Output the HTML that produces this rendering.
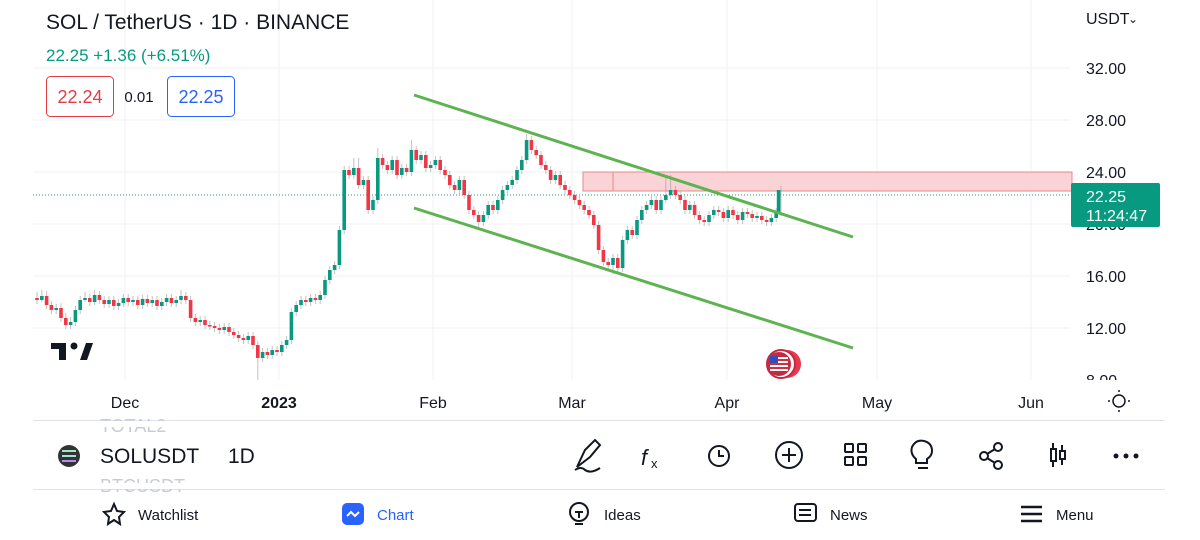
<!DOCTYPE html>
<html><head><meta charset="utf-8"><style>
html,body{margin:0;padding:0;background:#fff;width:1200px;height:540px;overflow:hidden;font-family:"Liberation Sans",sans-serif}
svg text{font-family:"Liberation Sans",sans-serif}
.u{fill:#089981}.d{fill:#f23645}
</style></head><body>
<svg width="1200" height="540" xmlns="http://www.w3.org/2000/svg">
<g stroke="#f0f2f5" stroke-width="1">
<line x1="33" y1="68" x2="1070" y2="68"/><line x1="33" y1="120" x2="1070" y2="120"/><line x1="33" y1="172" x2="1070" y2="172"/><line x1="33" y1="224" x2="1070" y2="224"/><line x1="33" y1="276" x2="1070" y2="276"/><line x1="33" y1="328" x2="1070" y2="328"/>
<line x1="125" y1="0" x2="125" y2="380"/><line x1="279" y1="0" x2="279" y2="380"/><line x1="433" y1="0" x2="433" y2="380"/><line x1="572" y1="0" x2="572" y2="380"/><line x1="727" y1="0" x2="727" y2="380"/><line x1="877" y1="0" x2="877" y2="380"/><line x1="1031" y1="0" x2="1031" y2="380"/>
</g>
<rect x="583" y="172" width="489" height="19" fill="#f9d3d5" stroke="#e58a90" stroke-width="1"/>
<line x1="613" y1="172" x2="613" y2="191" stroke="#e58a90"/>
<line x1="33" y1="195" x2="1070" y2="195" stroke="#1a9a80" stroke-dasharray="1,2" stroke-width="1"/>
<!-- wicks -->
<path stroke="#999" stroke-opacity="0.6" stroke-width="1" fill="none" d="M37 292v12M41.8 290v12M46.6 291v18M51.4 301v13M56.2 304v10M61 303v19M65.8 313v16M70.6 317v12M75.4 306v20M80.2 296v18M85 292v10M89.8 294v12M94.6 290v15M99.4 291v13M104.2 296v12M109 296v12M113.8 296v14M118.6 299v11M123.4 294v13M128.2 294v12M133 296v10M137.8 296v13M142.6 295v14M147.4 295v12M152.2 296v11M157 296v14M161.8 298v12M166.6 294v12M171.4 294v13M176.2 296v11M181 290v14M185.8 292v12M190.6 296v26M195.4 314v12M200.2 316v10M205 316v13M209.8 321v9M214.6 322v10M219.4 324v10M224.2 323v11M229 323v13M233.8 328v11M238.6 331v11M243.4 334v10M248.2 332v12M253 332v17M257.8 341v40M262.6 348v14M267.4 348v11M272.2 346v13M277 346v10M281.8 341v15M286.6 336v13M291.4 308v36M296.2 301v15M301 296v13M305.8 296v10M310.6 294v12M315.4 294v10M320.2 291v13M325 276v23M329.8 266v18M334.6 261v13M339.4 226v43M344.2 166v68M349 166v13M353.8 158v21M358.6 158v31M363.4 176v13M368.2 176v38M373 196v18M377.8 148v56M382.6 154v15M387.4 161v13M392.2 156v18M397 156v23M401.8 164v15M406.6 164v12M411.4 140v36M416.2 146v18M421 151v13M425.8 151v21M430.6 161v11M435.4 156v13M440.2 156v18M445 166v13M449.8 171v18M454.6 181v13M459.4 176v18M464.2 176v23M469 191v23M473.8 206v13M478.6 211v18M483.4 211v15M488.2 201v18M493 201v13M497.8 196v18M502.6 186v18M507.4 181v13M512.2 176v13M517 166v18M521.8 156v18M526.6 134v30M531.4 136v18M536.2 146v13M541 151v18M545.8 161v13M550.6 166v18M555.4 171v13M560.2 171v18M565 181v13M569.8 186v13M574.6 191v13M579.4 196v13M584.2 201v13M589 206v13M593.8 211v18M598.6 221v33M603.4 246v20M608.2 258v11M613 254v20M617.8 254v18M622.6 236v36M627.4 226v18M632.2 226v13M637 216v23M641.8 206v18M646.6 201v13M651.4 196v13M656.2 196v18M661 196v18M665.8 175v28M670.6 175v24M675.4 186v13M680.2 191v13M685 196v18M689.8 201v13M694.6 201v18M699.4 211v13M704.2 216v10M709 211v15M713.8 206v13M718.6 206v10M723.4 208v14M728.2 206v16M733 206v13M737.8 211v13M742.6 208v16M747.4 208v10M752.2 210v12M757 212v10M761.8 212v12M766.6 216v10M771.4 214v12M776.2 208v14M781 186v30"/>
<g class="d">
<rect x="35.2" y="298" width="3.6" height="2"/><rect x="44.8" y="296" width="3.6" height="9"/><rect x="49.6" y="305" width="3.6" height="5"/><rect x="59.2" y="308" width="3.6" height="10"/><rect x="64" y="318" width="3.6" height="7"/><rect x="88" y="298" width="3.6" height="4"/><rect x="97.6" y="295" width="3.6" height="5"/><rect x="102.4" y="300" width="3.6" height="4"/><rect x="112" y="300" width="3.6" height="6"/><rect x="126.4" y="298" width="3.6" height="4"/><rect x="136" y="300" width="3.6" height="5"/><rect x="145.6" y="299" width="3.6" height="4"/><rect x="155.2" y="300" width="3.6" height="6"/><rect x="169.6" y="298" width="3.6" height="5"/><rect x="184" y="296" width="3.6" height="4"/><rect x="188.8" y="300" width="3.6" height="18"/><rect x="193.6" y="318" width="3.6" height="4"/><rect x="203.2" y="320" width="3.6" height="5"/><rect x="208" y="325" width="3.6" height="1.5"/><rect x="212.8" y="326" width="3.6" height="2"/><rect x="217.6" y="328" width="3.6" height="2"/><rect x="227.2" y="327" width="3.6" height="5"/><rect x="232" y="332" width="3.6" height="3"/><rect x="236.8" y="335" width="3.6" height="3"/><rect x="241.6" y="338" width="3.6" height="2"/><rect x="251.2" y="336" width="3.6" height="9"/><rect x="256" y="345" width="3.6" height="13"/><rect x="265.6" y="352" width="3.6" height="3"/><rect x="275.2" y="350" width="3.6" height="2"/><rect x="304" y="300" width="3.6" height="2"/><rect x="313.6" y="298" width="3.6" height="2"/><rect x="347.2" y="170" width="3.6" height="5"/><rect x="356.8" y="168" width="3.6" height="17"/><rect x="366.4" y="180" width="3.6" height="30"/><rect x="380.8" y="158" width="3.6" height="7"/><rect x="385.6" y="165" width="3.6" height="5"/><rect x="395.2" y="160" width="3.6" height="15"/><rect x="404.8" y="168" width="3.6" height="4"/><rect x="414.4" y="150" width="3.6" height="10"/><rect x="424" y="155" width="3.6" height="13"/><rect x="438.4" y="160" width="3.6" height="10"/><rect x="443.2" y="170" width="3.6" height="5"/><rect x="448" y="175" width="3.6" height="10"/><rect x="452.8" y="185" width="3.6" height="5"/><rect x="462.4" y="180" width="3.6" height="15"/><rect x="467.2" y="195" width="3.6" height="15"/><rect x="472" y="210" width="3.6" height="5"/><rect x="476.8" y="215" width="3.6" height="7"/><rect x="491.2" y="205" width="3.6" height="5"/><rect x="529.6" y="140" width="3.6" height="10"/><rect x="534.4" y="150" width="3.6" height="5"/><rect x="539.2" y="155" width="3.6" height="10"/><rect x="544" y="165" width="3.6" height="5"/><rect x="548.8" y="170" width="3.6" height="10"/><rect x="558.4" y="175" width="3.6" height="10"/><rect x="563.2" y="185" width="3.6" height="5"/><rect x="568" y="190" width="3.6" height="5"/><rect x="572.8" y="195" width="3.6" height="5"/><rect x="577.6" y="200" width="3.6" height="5"/><rect x="582.4" y="205" width="3.6" height="5"/><rect x="587.2" y="210" width="3.6" height="5"/><rect x="592" y="215" width="3.6" height="10"/><rect x="596.8" y="225" width="3.6" height="25"/><rect x="601.6" y="250" width="3.6" height="12"/><rect x="606.4" y="262" width="3.6" height="3"/><rect x="616" y="258" width="3.6" height="10"/><rect x="630.4" y="230" width="3.6" height="5"/><rect x="654.4" y="200" width="3.6" height="10"/><rect x="673.6" y="190" width="3.6" height="5"/><rect x="678.4" y="195" width="3.6" height="5"/><rect x="683.2" y="200" width="3.6" height="10"/><rect x="692.8" y="205" width="3.6" height="10"/><rect x="697.6" y="215" width="3.6" height="5"/><rect x="702.4" y="220" width="3.6" height="2"/><rect x="716.8" y="210" width="3.6" height="2"/><rect x="721.6" y="212" width="3.6" height="6"/><rect x="731.2" y="210" width="3.6" height="5"/><rect x="736" y="215" width="3.6" height="5"/><rect x="745.6" y="212" width="3.6" height="2"/><rect x="750.4" y="214" width="3.6" height="4"/><rect x="760" y="216" width="3.6" height="4"/><rect x="764.8" y="220" width="3.6" height="2"/>
</g>
<g class="u">
<rect x="40" y="296" width="3.6" height="4"/><rect x="54.4" y="308" width="3.6" height="2"/><rect x="68.8" y="322" width="3.6" height="3"/><rect x="73.6" y="310" width="3.6" height="12"/><rect x="78.4" y="300" width="3.6" height="10"/><rect x="83.2" y="298" width="3.6" height="2"/><rect x="92.8" y="295" width="3.6" height="7"/><rect x="107.2" y="300" width="3.6" height="4"/><rect x="116.8" y="303" width="3.6" height="3"/><rect x="121.6" y="298" width="3.6" height="5"/><rect x="131.2" y="300" width="3.6" height="2"/><rect x="140.8" y="299" width="3.6" height="6"/><rect x="150.4" y="300" width="3.6" height="3"/><rect x="160" y="302" width="3.6" height="4"/><rect x="164.8" y="298" width="3.6" height="4"/><rect x="174.4" y="300" width="3.6" height="3"/><rect x="179.2" y="296" width="3.6" height="4"/><rect x="198.4" y="320" width="3.6" height="2"/><rect x="222.4" y="327" width="3.6" height="3"/><rect x="246.4" y="336" width="3.6" height="4"/><rect x="260.8" y="352" width="3.6" height="6"/><rect x="270.4" y="350" width="3.6" height="5"/><rect x="280" y="345" width="3.6" height="7"/><rect x="284.8" y="340" width="3.6" height="5"/><rect x="289.6" y="312" width="3.6" height="28"/><rect x="294.4" y="305" width="3.6" height="7"/><rect x="299.2" y="300" width="3.6" height="5"/><rect x="308.8" y="298" width="3.6" height="4"/><rect x="318.4" y="295" width="3.6" height="5"/><rect x="323.2" y="280" width="3.6" height="15"/><rect x="328" y="270" width="3.6" height="10"/><rect x="332.8" y="265" width="3.6" height="5"/><rect x="337.6" y="230" width="3.6" height="35"/><rect x="342.4" y="170" width="3.6" height="60"/><rect x="352" y="168" width="3.6" height="7"/><rect x="361.6" y="180" width="3.6" height="5"/><rect x="371.2" y="200" width="3.6" height="10"/><rect x="376" y="158" width="3.6" height="42"/><rect x="390.4" y="160" width="3.6" height="10"/><rect x="400" y="168" width="3.6" height="7"/><rect x="409.6" y="150" width="3.6" height="22"/><rect x="419.2" y="155" width="3.6" height="5"/><rect x="428.8" y="165" width="3.6" height="3"/><rect x="433.6" y="160" width="3.6" height="5"/><rect x="457.6" y="180" width="3.6" height="10"/><rect x="481.6" y="215" width="3.6" height="7"/><rect x="486.4" y="205" width="3.6" height="10"/><rect x="496" y="200" width="3.6" height="10"/><rect x="500.8" y="190" width="3.6" height="10"/><rect x="505.6" y="185" width="3.6" height="5"/><rect x="510.4" y="180" width="3.6" height="5"/><rect x="515.2" y="170" width="3.6" height="10"/><rect x="520" y="160" width="3.6" height="10"/><rect x="524.8" y="140" width="3.6" height="20"/><rect x="553.6" y="175" width="3.6" height="5"/><rect x="611.2" y="258" width="3.6" height="7"/><rect x="620.8" y="240" width="3.6" height="28"/><rect x="625.6" y="230" width="3.6" height="10"/><rect x="635.2" y="220" width="3.6" height="15"/><rect x="640" y="210" width="3.6" height="10"/><rect x="644.8" y="205" width="3.6" height="5"/><rect x="649.6" y="200" width="3.6" height="5"/><rect x="659.2" y="200" width="3.6" height="10"/><rect x="664" y="195" width="3.6" height="5"/><rect x="668.8" y="190" width="3.6" height="5"/><rect x="688" y="205" width="3.6" height="5"/><rect x="707.2" y="215" width="3.6" height="7"/><rect x="712" y="210" width="3.6" height="5"/><rect x="726.4" y="210" width="3.6" height="8"/><rect x="740.8" y="212" width="3.6" height="8"/><rect x="755.2" y="216" width="3.6" height="2"/><rect x="769.6" y="218" width="3.6" height="4"/><rect x="774.4" y="212" width="3.6" height="6"/><rect x="776.8" y="190" width="3.6" height="22"/>
</g>
<line x1="414" y1="95" x2="853" y2="237" stroke="#5cb34f" stroke-width="3"/>
<line x1="414" y1="208" x2="853" y2="348" stroke="#5cb34f" stroke-width="3"/>
<text x="46" y="29" font-size="21" fill="#131722">SOL / TetherUS · 1D · BINANCE</text>
<text x="46" y="61" font-size="17" fill="#089981">22.25 +1.36 (+6.51%)</text>
<rect x="46.5" y="76.5" width="67" height="40" rx="4" fill="#fff" stroke="#e33c47"/>
<text x="80" y="103" font-size="18" fill="#e33c47" text-anchor="middle">22.24</text>
<text x="139" y="102" font-size="15" fill="#131722" text-anchor="middle">0.01</text>
<rect x="167.5" y="76.5" width="67" height="40" rx="4" fill="#fff" stroke="#2962ff"/>
<text x="201" y="103" font-size="18" fill="#2962ff" text-anchor="middle">22.25</text>
<g font-size="16" fill="#131722">
<text x="1086" y="24">USDT</text><text x="1128" y="23" font-size="12">⌄</text>
<text x="1086" y="74">32.00</text><text x="1086" y="126">28.00</text><text x="1086" y="178">24.00</text><text x="1086" y="230">20.00</text><text x="1086" y="282">16.00</text><text x="1086" y="334">12.00</text><text x="1086" y="386">8.00</text>
</g>
<rect x="1071" y="183" width="89" height="44" rx="2" fill="#089981"/>
<text x="1086" y="202" font-size="16" fill="#fff">22.25</text>
<text x="1086" y="221" font-size="16" fill="#fff">11:24:47</text>
<rect x="0" y="380" width="1200" height="160" fill="#fff"/>
<g font-size="16" fill="#131722" text-anchor="middle">
<text x="125" y="408">Dec</text><text x="279" y="408" font-weight="bold">2023</text><text x="433" y="408">Feb</text><text x="572" y="408">Mar</text><text x="727" y="408">Apr</text><text x="877" y="408">May</text><text x="1031" y="408">Jun</text>
</g>
<circle cx="1119" cy="401" r="6" fill="none" stroke="#131722" stroke-width="1.5"/>
<g stroke="#131722" stroke-width="1.5"><line x1="1119" y1="390" x2="1119" y2="392"/><line x1="1119" y1="410" x2="1119" y2="412"/><line x1="1108" y1="401" x2="1110" y2="401"/><line x1="1128" y1="401" x2="1130" y2="401"/></g>
<line x1="33" y1="420.5" x2="1165" y2="420.5" stroke="#e0e3eb"/>
<line x1="33" y1="489.5" x2="1165" y2="489.5" stroke="#e0e3eb"/>
<text x="100" y="432" font-size="18" fill="#c8cbd2">TOTAL2</text>
<text x="100" y="492" font-size="18" fill="#c8cbd2">BTCUSDT</text>
<rect x="0" y="421" width="1200" height="6" fill="#fff"/><rect x="0" y="483" width="1200" height="6" fill="#fff"/>
<circle cx="69" cy="456" r="11" fill="#333"/>
<g stroke="#9be7c9" stroke-width="2"><line x1="62" y1="451" x2="76" y2="451"/><line x1="62" y1="456" x2="76" y2="456"/></g><line x1="62" y1="461" x2="76" y2="461" stroke="#b78cf2" stroke-width="2"/>
<text x="100" y="463" font-size="21" fill="#131722">SOLUSDT</text>
<text x="228" y="463" font-size="21" fill="#131722">1D</text>
<g fill="none" stroke="#131722" stroke-width="2">
<path d="M577 467 L585 450 L595 440 L600 445 L590 457 Z M575 470 q6 -4 10 0 q6 4 15 -2"/>
<text x="641" y="465" font-size="22" fill="#131722" stroke="none" font-style="italic">f</text><text x="651" y="468" font-size="13" fill="#131722" stroke="none">x</text>
<circle cx="719" cy="456" r="10"/><path d="M719 450v6h5"/>
<circle cx="789" cy="455" r="13"/><path d="M782 455h14M789 448v14"/>
<rect x="845" y="444" width="8" height="8" rx="1"/><rect x="858" y="444" width="8" height="8" rx="1"/><rect x="845" y="457" width="8" height="8" rx="1"/><rect x="858" y="457" width="8" height="8" rx="1"/>
<path d="M916 459 q-6 -5 -4 -12 q4 -8 12 -6 q8 2 8 10 q0 5 -5 8 v4 h-11z M918 468h10"/>
<circle cx="984" cy="456" r="4"/><circle cx="998" cy="447" r="4"/><circle cx="998" cy="465" r="4"/><path d="M987 454l8-5M987 458l8 5"/>
<rect x="1051" y="449" width="5" height="12"/><rect x="1060" y="451" width="5" height="8"/><path d="M1053 443v6M1053 461v6M1062 445v6M1062 459v6"/>
</g>
<g fill="#131722"><circle cx="1116" cy="456" r="2.5"/><circle cx="1126" cy="456" r="2.5"/><circle cx="1136" cy="456" r="2.5"/></g>
<path d="M114 504 l3 7 7 1 -5 5 1 7 -6 -4 -6 4 1 -7 -5 -5 7 -1z" fill="none" stroke="#131722" stroke-width="2"/>
<text x="138" y="520" font-size="15" fill="#131722">Watchlist</text>
<rect x="342" y="503" width="22" height="22" rx="5" fill="#2962ff"/><path d="M347 516 l4 -4 4 4 4 -4" stroke="#fff" stroke-width="2" fill="none"/>
<text x="377" y="520" font-size="15" fill="#2962ff">Chart</text>
<circle cx="579" cy="512" r="9" fill="none" stroke="#131722" stroke-width="2"/><path d="M575 512h8M579 512v6M575 524h8" stroke="#131722" stroke-width="2"/>
<text x="604" y="520" font-size="15" fill="#131722">Ideas</text>
<rect x="795" y="504" width="21" height="17" rx="3" fill="none" stroke="#131722" stroke-width="2"/><path d="M799 510h12M799 515h12" stroke="#131722" stroke-width="2"/>
<text x="830" y="520" font-size="15" fill="#131722">News</text>
<path d="M1021 507h21M1021 514h21M1021 521h21" stroke="#131722" stroke-width="2.5"/>
<text x="1056" y="520" font-size="15" fill="#131722">Menu</text>
<g fill="#131722"><path d="M51 343h15v17h-7v-11h-8z"/><path d="M80 360l6-17h7l-6 17z"/><circle cx="74" cy="346" r="3.5"/></g>
<circle cx="787" cy="364" r="14" fill="#e8374e"/><circle cx="781" cy="364" r="14" fill="#fff" stroke="#c42a40" stroke-width="2"/><circle cx="779" cy="364" r="12" fill="#c42a40"/>
<rect x="770" y="357" width="18" height="14" fill="#fff"/><g stroke="#d03040" stroke-width="2"><line x1="770" y1="360" x2="788" y2="360"/><line x1="770" y1="364" x2="788" y2="364"/><line x1="770" y1="368" x2="788" y2="368"/></g><rect x="770" y="356" width="8" height="7" fill="#2f4dbf"/>
</svg>
</body></html>
